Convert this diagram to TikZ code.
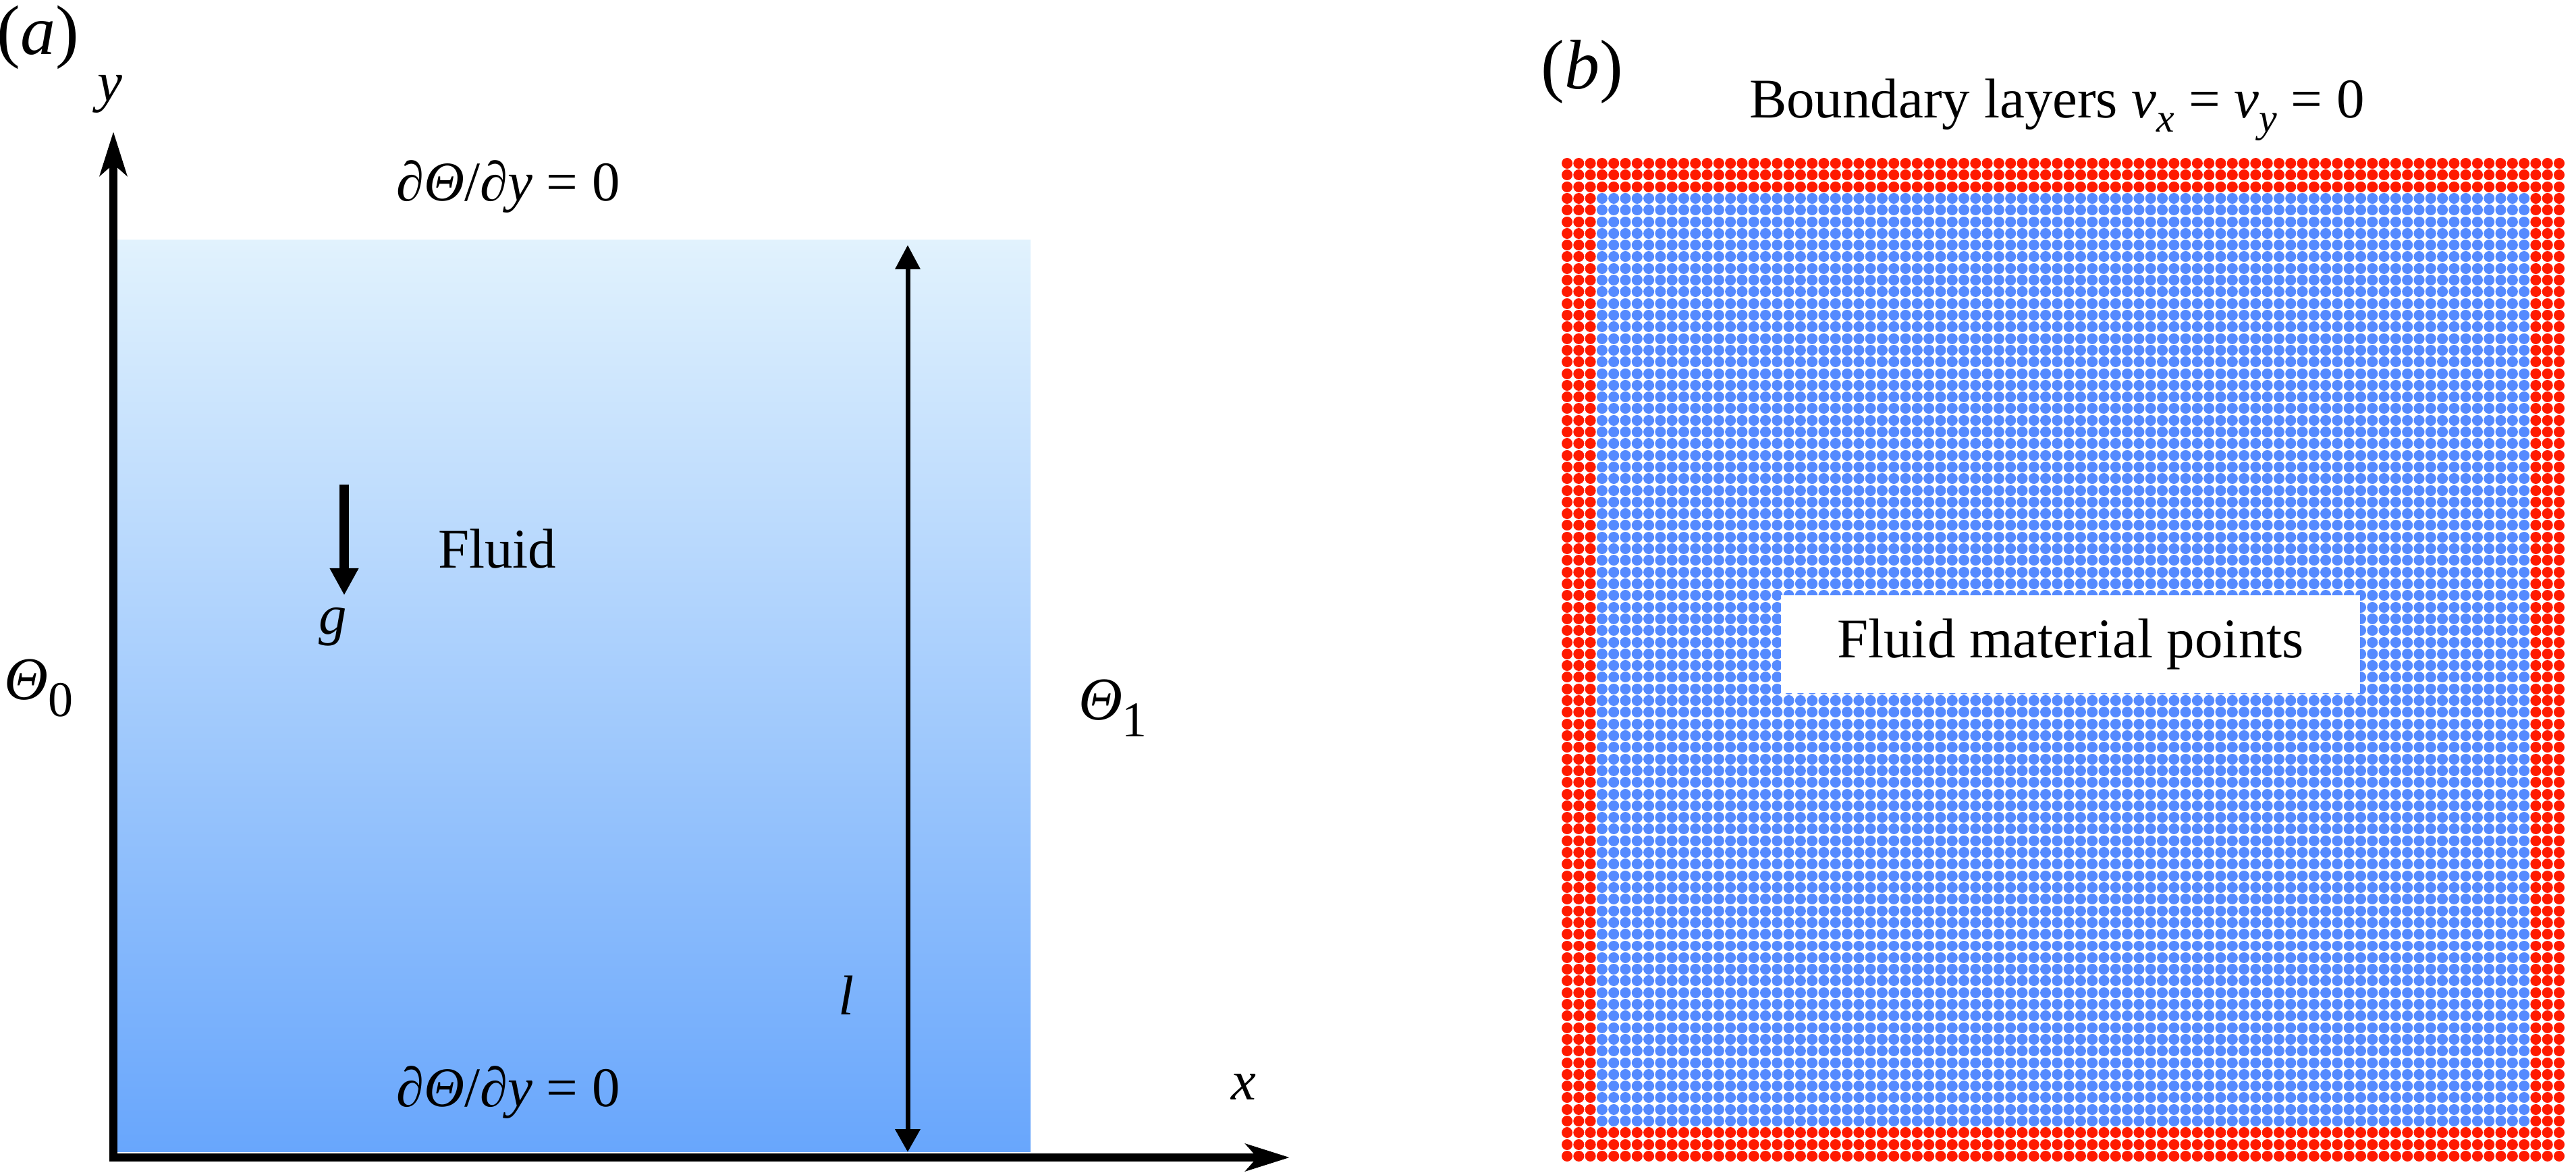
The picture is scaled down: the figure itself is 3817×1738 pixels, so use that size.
\documentclass[tikz,border=0pt]{standalone}
\usepackage{fontspec}
\setmainfont{Liberation Serif}
\usetikzlibrary{arrows.meta}
\definecolor{fluidtop}{RGB}{225,242,253}
\definecolor{fluidbot}{RGB}{104,166,252}
\definecolor{redpt}{RGB}{255,26,0}
\definecolor{bluept}{RGB}{85,138,255}
\newcommand\subsc[1]{\raisebox{-0.27em}{\fontsize{7.4}{8}\selectfont #1}}
\newcommand\smallsub[1]{\raisebox{-0.25em}{\fontsize{6}{7}\selectfont\itshape #1}}
\tikzset{
  lbl/.style={font=\fontsize{8.3}{10}\selectfont, inner sep=0pt},
  thlbl/.style={font=\fontsize{9}{11}\selectfont, inner sep=0pt},
  panellbl/.style={font=\fontsize{10.4}{12}\selectfont, inner sep=0pt},
  axisarrow/.style={line width=1.2pt, {Stealth[length=6.5pt,width=4pt,inset=1.7pt]}-{Stealth[length=6.5pt,width=4pt,inset=1.7pt]}},
  dimarrow/.style={line width=0.7pt, {Triangle[length=3.6pt,width=3.6pt]}-{Triangle[length=3.4pt,width=3.6pt]}},
  gravarrow/.style={line width=1.4pt, -{Triangle[length=4pt,width=4pt]}},
  reddots/.style={draw=redpt, line width=1.6pt, line cap=round},
  bluedots/.style={draw=bluept, line width=1.6pt, line cap=round},
}
\begin{document}
\begin{tikzpicture}[x=0.1pt,y=-0.1pt]
\useasboundingbox (0,0) rectangle (3817,1738);
% ---------- panel (a) ----------
\shade[top color=fluidtop, bottom color=fluidbot] (174,356) rectangle (1527,1707);
\coordinate (ytip) at (168,195);
\coordinate (origin) at (168,1715);
\coordinate (xtip) at (1911,1715);
\draw[axisarrow] (ytip) -- (origin) -- (xtip);
\coordinate (ltop) at (1345,363);
\coordinate (lbot) at (1345,1707);
\draw[dimarrow] (ltop) -- (lbot);
\coordinate (gtop) at (510,718);
\coordinate (gtip) at (510,882);
\draw[gravarrow] (gtop) -- (gtip);
\node[panellbl, anchor=base] (la) at (56,81) {(\textit{a})};
\node[lbl, anchor=base] (ylab) at (163,150) {\textit{y}};
\node[lbl, anchor=base] (xlab) at (1843,1630) {\textit{x}};
\node[lbl, anchor=base] (glab) at (493,940) {\textit{g}};
\node[lbl, anchor=base west] (fluid) at (647,842) {Fluid};
\node[lbl, anchor=base] (llab) at (1254,1503) {\textit{l}};
\node[lbl, anchor=base] (bctop) at (753,298) {∂\textit{Θ}/∂\textit{y} = 0};
\node[lbl, anchor=base] (bcbot) at (753,1640) {∂\textit{Θ}/∂\textit{y} = 0};
\node[thlbl, anchor=base west] (th0) at (5,1037) {\textit{Θ}\subsc{0}};
\node[thlbl, anchor=base west] (th1) at (1596,1067) {\textit{Θ}\subsc{1}};
% ---------- panel (b) ----------
\node[panellbl, anchor=base] (lb) at (2344,132) {(\textit{b})};
\node[lbl, anchor=base] (bltext) at (3048,175) {Boundary layers \textit{v}\smallsub{x} = \textit{v}\smallsub{y} = 0};
\foreach \j in {0,1,2,83,84,85}{
  \draw[reddots] \foreach \i in {0,...,85}{ (2322+\i*17.294, 242+\j*17.306) -- ++(0.05,0) };
}
\foreach \j in {3,...,82}{
  \draw[reddots] \foreach \i in {0,1,2,83,84,85}{ (2322+\i*17.294, 242+\j*17.306) -- ++(0.05,0) };
  \draw[bluedots] \foreach \i in {3,...,82}{ (2322+\i*17.294, 242+\j*17.306) -- ++(0.05,0) };
}
\node[lbl, fill=white, minimum width=85.8pt, minimum height=14.5pt] (fmp) at (3068,954.5) {Fluid material points};
\end{tikzpicture}
\end{document}
